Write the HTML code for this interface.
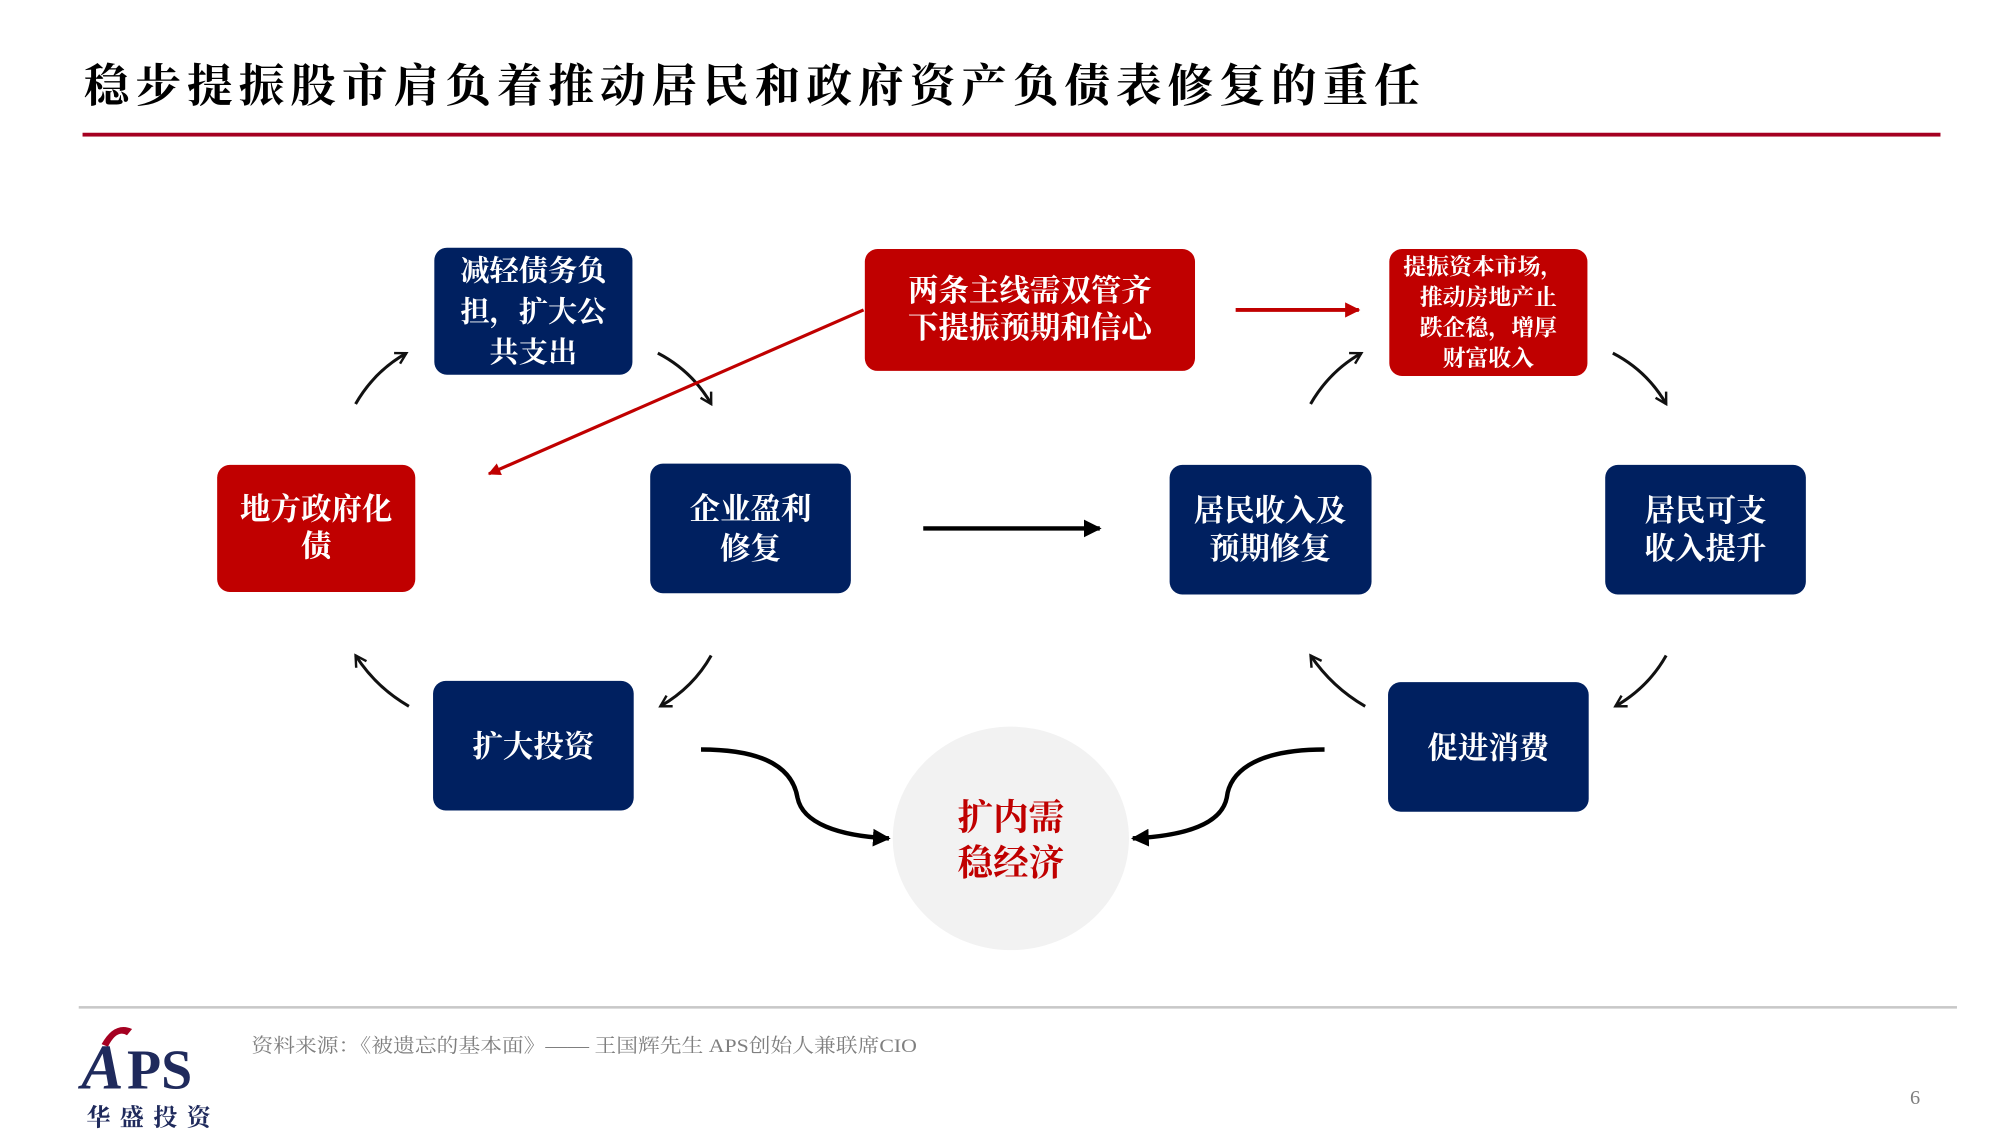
<!DOCTYPE html>
<html><head><meta charset="utf-8"><style>
html,body{margin:0;padding:0;background:#fff;width:1990px;height:1142px;overflow:hidden}
svg{display:block}
text{font-family:"Liberation Serif","Noto Serif CJK SC",serif}
</style></head><body>
<svg width="1990" height="1142" viewBox="0 0 1567 899" preserveAspectRatio="none" xmlns="http://www.w3.org/2000/svg">
<defs>
<marker id="ah" viewBox="0 0 10 10" refX="8" refY="5" markerWidth="5" markerHeight="5" orient="auto"><path d="M1,1 L8,5 L1,9" fill="none" stroke="#111" stroke-width="1.6"/></marker>
<marker id="ahf" viewBox="0 0 10 10" refX="9" refY="5" markerWidth="4" markerHeight="4" orient="auto"><path d="M0,0 L10,5 L0,10 z" fill="#000"/></marker>
<marker id="ahr" viewBox="0 0 10 10" refX="9" refY="5" markerWidth="4" markerHeight="4" orient="auto"><path d="M0,0 L10,5 L0,10 z" fill="#c00000"/></marker>
</defs>
<text x="66" y="80" font-size="36" font-weight="bold" fill="#000" textLength="1052" lengthAdjust="spacing">稳步提振股市肩负着推动居民和政府资产负债表修复的重任</text>
<rect x="65" y="104.5" width="1463" height="3" fill="#a50021"/>

<g font-weight="bold" fill="#fff" text-anchor="middle">
<rect x="342" y="195" width="156" height="100" rx="10" fill="#002060"/>
<text x="420" y="221" font-size="23">减轻债务负</text><text x="420" y="253" font-size="23">担，扩大公</text><text x="420" y="285" font-size="23">共支出</text>
<rect x="681" y="196" width="260" height="96" rx="10" fill="#c00000"/>
<text x="811" y="237" font-size="24">两条主线需双管齐</text><text x="811" y="266" font-size="24">下提振预期和信心</text>
<rect x="1094" y="196" width="156" height="100" rx="10" fill="#c00000"/>
<text x="1168" y="216" font-size="18">提振资本市场，</text><text x="1172" y="240" font-size="18">推动房地产止</text><text x="1172" y="264" font-size="18">跌企稳，增厚</text><text x="1172" y="288" font-size="18">财富收入</text>
<rect x="171" y="366" width="156" height="100" rx="10" fill="#c00000"/>
<text x="249" y="409" font-size="24">地方政府化</text><text x="249" y="438" font-size="24">债</text>
<rect x="512" y="365" width="158" height="102" rx="10" fill="#002060"/>
<text x="591" y="409" font-size="24">企业盈利</text><text x="591" y="440" font-size="24">修复</text>
<rect x="921" y="366" width="159" height="102" rx="10" fill="#002060"/>
<text x="1000" y="410" font-size="24">居民收入及</text><text x="1000" y="440" font-size="24">预期修复</text>
<rect x="1264" y="366" width="158" height="102" rx="10" fill="#002060"/>
<text x="1343" y="410" font-size="24">居民可支</text><text x="1343" y="440" font-size="24">收入提升</text>
<rect x="341" y="536" width="158" height="102" rx="10" fill="#002060"/>
<text x="420" y="596" font-size="24">扩大投资</text>
<rect x="1093" y="537" width="158" height="102" rx="10" fill="#002060"/>
<text x="1172" y="597" font-size="24">促进消费</text>
</g>
<ellipse cx="796" cy="660" rx="93" ry="88" fill="#f2f2f2"/>
<g font-weight="bold" fill="#c00000" text-anchor="middle" font-size="28">
<text x="796" y="653">扩内需</text><text x="796" y="689">稳经济</text>
</g>

<g fill="none" stroke="#111" stroke-width="2.4" marker-end="url(#ah)">
<path d="M280,318 Q295,292 320,278"/>
<path d="M518,278 Q545,292 560,318"/>
<path d="M1032,318 Q1047,292 1072,278"/>
<path d="M1270,278 Q1297,292 1312,318"/>
<path d="M322,556 Q296,541 280,516"/>
<path d="M560,516 Q546,541 520,556"/>
<path d="M1075,556 Q1049,541 1032,516"/>
<path d="M1312,516 Q1298,541 1272,556"/>
</g>
<path d="M727,416 L866,416" stroke="#000" stroke-width="3.5" marker-end="url(#ahf)"/>
<path d="M973,244 L1070,244" stroke="#c00000" stroke-width="3" marker-end="url(#ahr)"/>
<path d="M680,244 L385,373" stroke="#c00000" stroke-width="2.5" marker-end="url(#ahr)"/>
<path d="M552,590 C610,590 625,610 628,628 C632,648 660,658 700,660" fill="none" stroke="#000" stroke-width="3.5" marker-end="url(#ahf)"/>
<path d="M1043,590 C985,590 968,610 966,628 C962,648 935,658 892,660" fill="none" stroke="#000" stroke-width="3.5" marker-end="url(#ahf)"/>

<rect x="62" y="792" width="1479" height="2" fill="#c8c8c8"/>
<text x="198" y="828" font-size="15" fill="#7f7f7f" textLength="524" lengthAdjust="spacingAndGlyphs">资料来源：《被遗忘的基本面》—— 王国辉先生  APS创始人兼联席CIO</text>
<path d="M80,822 Q90,804 104,810 L100,815 Q92,810 85,824 z" fill="#a50021"/>
<text x="64" y="857" font-size="50" font-weight="bold" fill="#1f2a5c" font-style="italic">A</text>
<text x="100" y="857" font-size="44" font-weight="bold" fill="#1f2a5c">PS</text>
<text x="68" y="886" font-size="19" font-weight="bold" fill="#1f2a5c" textLength="98">华盛投资</text>
<text x="1504" y="869" font-size="16" fill="#7f7f7f" font-family="Liberation Sans">6</text>
</svg>
</body></html>
